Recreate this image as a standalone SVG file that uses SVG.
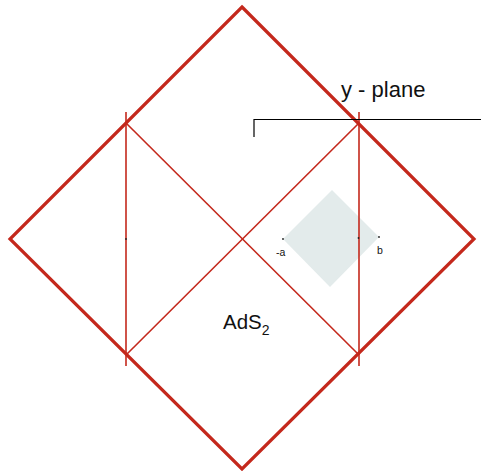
<svg xmlns="http://www.w3.org/2000/svg" width="481" height="471" viewBox="0 0 481 471">
<style>
.outer{fill:none;stroke:#c4281c;stroke-width:3.2;stroke-linejoin:miter}
.inner{fill:none;stroke:#c4281c;stroke-width:1.6}
.blk{fill:none;stroke:#000;stroke-width:1.2}
.t{font-family:"Liberation Sans",Arial,sans-serif;fill:#111}
.dot{fill:#222}
</style>
<g id="region">
<polygon points="283,239 332,190 379,237 330,287" fill="#e3ebeb"/>
</g>
<g id="connectors">
<polygon class="outer" points="242,7 474,239 242,469 10,239"/>
<line class="inner" x1="126" y1="123" x2="359" y2="355"/>
<line class="inner" x1="359" y1="123" x2="126" y2="355"/>
<line class="inner" x1="126" y1="112" x2="126" y2="366"/>
<line class="inner" x1="359" y1="112" x2="359" y2="366"/>
<polyline class="blk" points="254,137 254,119.5 481,119.5"/>
</g>
<g id="points">
<circle class="dot" cx="283" cy="239" r="0.9"/>
<circle class="dot" cx="358.5" cy="238" r="0.9"/>
<circle class="dot" cx="379" cy="237" r="0.9"/>
<circle class="dot" cx="126" cy="239" r="0.9"/>
<text class="t" x="276" y="256" font-size="10.5">-a</text>
<text class="t" x="377" y="254" font-size="10.5">b</text>
</g>
<g id="labels">
<text class="t" x="341" y="97" font-size="22">y - plane</text>
<text class="t" x="223" y="329" font-size="20.5">AdS<tspan font-size="14" dy="6">2</tspan></text>
</g>
</svg>
